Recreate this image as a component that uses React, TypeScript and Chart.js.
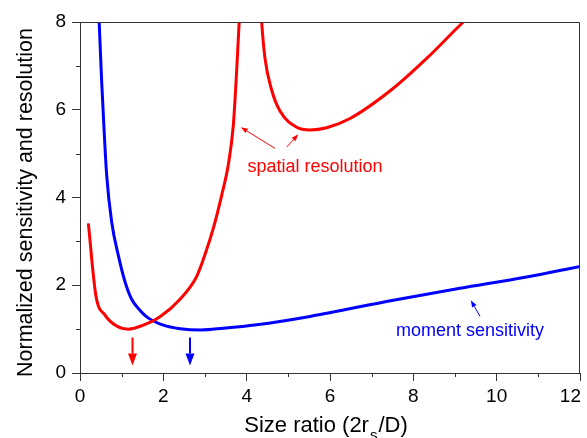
import React, { useEffect, useRef } from 'react';
import { Chart, registerables } from 'chart.js';

Chart.register(...registerables);

// ---- data ----
const xTickValues = [0, 2, 4, 6, 8, 10, 12];
const yTickValues = [0, 2, 4, 6, 8];
const xMinorTicks = [1, 3, 5, 7, 9, 11];
const yMinorTicks = [1, 3, 5, 7];

// spatial resolution, branch below the pole
const resLeftX = [0.2, 0.38, 0.6, 0.88, 1.16, 1.52, 1.92, 2.4, 2.8, 3.0, 3.2, 3.4, 3.56, 3.68, 3.76, 3.82, 3.86];
const resLeftY = [3.41, 1.77, 1.32, 1.07, 1.0, 1.09, 1.28, 1.68, 2.2, 2.7, 3.3, 4.05, 4.75, 5.65, 6.9, 8.0, 8.7];
// spatial resolution, branch above the pole
const resRightX = [4.33, 4.36, 4.44, 4.6, 4.8, 5.2, 5.52, 5.92, 6.48, 7.52, 8.32, 9.2, 9.4];
const resRightY = [8.5, 8.0, 7.17, 6.45, 5.97, 5.6, 5.54, 5.59, 5.8, 6.49, 7.17, 8.0, 8.17];
// moment sensitivity
const sensX = [0.44, 0.46, 0.52, 0.58, 0.64, 0.76, 0.92, 1.08, 1.24, 1.4, 1.6, 2.0, 2.4, 2.9, 3.44, 4.24, 5.52, 7.52, 9.12, 10.72, 12];
const sensY = [8.5, 8.0, 6.64, 5.5, 4.51, 3.44, 2.68, 2.08, 1.68, 1.47, 1.28, 1.09, 1.01, 0.98, 1.02, 1.1, 1.29, 1.66, 1.93, 2.19, 2.43];

// optimum markers (x positions of the down arrows)
const optimumRes = 1.26;
const optimumSens = 2.64;

const labelRes = 'spatial resolution';
const labelSens = 'moment sensitivity';
const yTitle = 'Normalized sensitivity and resolution';
const xTitleMain = 'Size ratio (2r';
const xTitleSub = 's';
const xTitleEnd = '/D)';

const RED = '#ff0000';
const BLUE = '#0000ff';
const AXIS = '#333333';
const FONT = '"Liberation Sans", Arial, sans-serif';

const toPts = (xs: number[], ys: number[]) => xs.map((x, i) => ({ x, y: ys[i] }));

function arrow(ctx: CanvasRenderingContext2D, x1: number, y1: number, x2: number, y2: number, color: string, lw: number, headLen: number, headW: number) {
  const ang = Math.atan2(y2 - y1, x2 - x1);
  const bx = x2 - headLen * Math.cos(ang);
  const by = y2 - headLen * Math.sin(ang);
  ctx.strokeStyle = color;
  ctx.fillStyle = color;
  ctx.lineWidth = lw;
  ctx.beginPath();
  ctx.moveTo(x1, y1);
  ctx.lineTo(bx, by);
  ctx.stroke();
  ctx.beginPath();
  ctx.moveTo(x2, y2);
  ctx.lineTo(bx + headW * Math.sin(ang), by - headW * Math.cos(ang));
  ctx.lineTo(bx - headW * Math.sin(ang), by + headW * Math.cos(ang));
  ctx.closePath();
  ctx.fill();
}

const decor = {
  id: 'decor',
  afterDraw(chart: any) {
    const { ctx, chartArea: a, scales } = chart;
    const sx = scales.x;
    const sy = scales.y;
    ctx.save();
    // frame
    ctx.strokeStyle = AXIS;
    ctx.lineWidth = 1;
    ctx.beginPath();
    ctx.moveTo(Math.round(a.left) + 0.5, Math.round(a.top) + 0.5);
    ctx.lineTo(Math.round(a.right) - 0.5, Math.round(a.top) + 0.5);
    ctx.lineTo(Math.round(a.right) - 0.5, Math.round(a.bottom) + 0.5);
    ctx.stroke();
    // minor ticks
    ctx.beginPath();
    xMinorTicks.forEach((v) => {
      const px = Math.round(sx.getPixelForValue(v)) + 0.5;
      ctx.moveTo(px, a.bottom);
      ctx.lineTo(px, a.bottom + 4);
    });
    yMinorTicks.forEach((v) => {
      const py = Math.round(sy.getPixelForValue(v)) + 0.5;
      ctx.moveTo(a.left - 4, py);
      ctx.lineTo(a.left, py);
    });
    ctx.stroke();

    // x tick labels
    ctx.fillStyle = '#000';
    ctx.font = `19px ${FONT}`;
    ctx.textBaseline = 'alphabetic';
    ctx.textAlign = 'left';
    xTickValues.forEach((v) => {
      const t = String(v);
      const w = ctx.measureText(t).width;
      let left = sx.getPixelForValue(v) - w / 2;
      if (left + w > a.right + 1) left = a.right + 1 - w;
      ctx.fillText(t, left, a.bottom + 28.5);
    });

    // x title with subscript
    ctx.font = `22px ${FONT}`;
    const w1 = ctx.measureText(xTitleMain).width;
    const w3 = ctx.measureText(xTitleEnd).width;
    ctx.font = `15px ${FONT}`;
    const w2 = ctx.measureText(xTitleSub).width + 2;
    const total = w1 + w2 + w3;
    const cx = (a.left + a.right) / 2 - 4;
    let tx = cx - total / 2;
    const base = a.bottom + 59;
    ctx.font = `22px ${FONT}`;
    ctx.fillText(xTitleMain, tx, base);
    tx += w1;
    ctx.font = `15px ${FONT}`;
    ctx.fillText(xTitleSub, tx + 1, base + 8);
    tx += w2;
    ctx.font = `22px ${FONT}`;
    ctx.fillText(xTitleEnd, tx, base);

    // y title
    ctx.save();
    ctx.translate(a.left - 48.5, (a.top + a.bottom) / 2 + 5);
    ctx.rotate(-Math.PI / 2);
    ctx.textAlign = 'center';
    ctx.font = `21.5px ${FONT}`;
    ctx.fillText(yTitle, 0, 0);
    ctx.restore();

    // annotations
    ctx.font = `18px ${FONT}`;
    ctx.textAlign = 'center';
    ctx.fillStyle = RED;
    ctx.fillText(labelRes, sx.getPixelForValue(5.64), sy.getPixelForValue(4.58));
    ctx.fillStyle = BLUE;
    ctx.fillText(labelSens, sx.getPixelForValue(9.36), sy.getPixelForValue(0.84));

    const P = (x: number, y: number) => [sx.getPixelForValue(x), sy.getPixelForValue(y)];
    let [ax, ay] = P(4.68, 5.12);
    let [bx, by] = P(3.86, 5.6);
    arrow(ctx, ax, ay, bx, by, RED, 1, 7, 2.5);
    [ax, ay] = P(4.96, 5.15);
    [bx, by] = P(5.24, 5.44);
    arrow(ctx, ax, ay, bx, by, RED, 1, 7, 2.5);
    [ax, ay] = P(9.6, 1.29);
    [bx, by] = P(9.38, 1.66);
    arrow(ctx, ax, ay, bx, by, BLUE, 1, 7, 2.5);

    // optimum arrows
    [ax, ay] = P(optimumRes, 0.81);
    [bx, by] = P(optimumRes, 0.17);
    arrow(ctx, ax, ay, bx, by, RED, 2, 12, 4.5);
    [ax, ay] = P(optimumSens, 0.81);
    [bx, by] = P(optimumSens, 0.17);
    arrow(ctx, ax, ay, bx, by, BLUE, 2, 12, 4.5);

    ctx.restore();
  },
};

export default function App() {
  const ref = useRef<HTMLCanvasElement | null>(null);
  useEffect(() => {
    if (!ref.current) return;
    const chart = new Chart(ref.current, {
      type: 'line',
      data: {
        datasets: [
          { label: labelRes, data: toPts(resLeftX, resLeftY), borderColor: RED, borderWidth: 3, pointRadius: 0, cubicInterpolationMode: 'monotone', clip: 0, fill: false },
          { label: labelRes, data: toPts(resRightX, resRightY), borderColor: RED, borderWidth: 3, pointRadius: 0, cubicInterpolationMode: 'monotone', clip: 0, fill: false },
          { label: labelSens, data: toPts(sensX, sensY), borderColor: BLUE, borderWidth: 3, pointRadius: 0, cubicInterpolationMode: 'monotone', clip: 0, fill: false },
        ],
      },
      options: {
        animation: false,
        responsive: false,
        devicePixelRatio: 1,
        layout: { padding: { top: 22, right: 7, left: 0, bottom: 0 } },
        plugins: { legend: { display: false }, tooltip: { enabled: false } },
        events: [],
        scales: {
          x: {
            type: 'linear',
            min: 0,
            max: 12,
            ticks: { stepSize: 2, display: false },
            grid: { drawOnChartArea: false, drawTicks: true, tickLength: 8, color: AXIS, lineWidth: 1 },
            border: { display: true, color: AXIS, width: 1 },
            afterFit: (s: any) => { s.height = 65; s.paddingLeft = 0; s.paddingRight = 0; },
          },
          y: {
            type: 'linear',
            min: 0,
            max: 8,
            ticks: { stepSize: 2, color: '#000', font: { family: FONT, size: 19 }, padding: 6 },
            grid: { drawOnChartArea: false, drawTicks: true, tickLength: 8, color: AXIS, lineWidth: 1 },
            border: { display: true, color: AXIS, width: 1 },
            afterFit: (s: any) => { s.width = 80; s.paddingTop = 0; s.paddingBottom = 0; },
          },
        },
      } as any,
      plugins: [decor],
    });
    return () => chart.destroy();
  }, []);
  return (
    <div style={{ position: 'absolute', left: 0, top: 0, width: 587, height: 438, background: '#fff' }}>
      <canvas ref={ref} width={587} height={438} style={{ display: 'block' }} />
    </div>
  );
}
